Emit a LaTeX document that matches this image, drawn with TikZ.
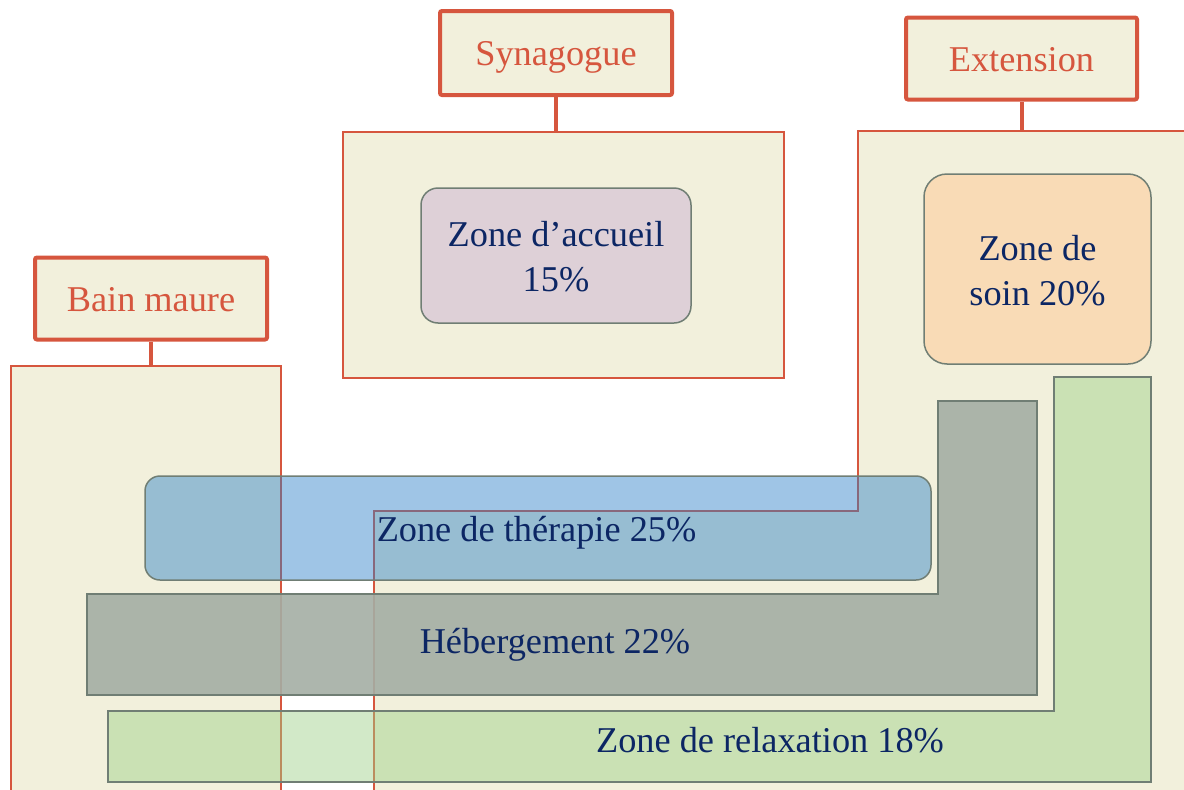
\documentclass[tikz,border=0pt]{standalone}
\usepackage{fontspec}
\setmainfont{Liberation Serif}
\definecolor{beige}{RGB}{242,240,220}
\definecolor{redline}{RGB}{214,86,62}
\definecolor{navy}{RGB}{12,38,100}
\definecolor{boxline}{RGB}{112,126,116}
\definecolor{blueZ}{RGB}{42,127,200}
\definecolor{grayZ}{RGB}{164,174,164}
\definecolor{greenZ}{RGB}{155,207,133}
\definecolor{pinkZ}{RGB}{222,208,215}
\definecolor{peachZ}{RGB}{249,219,182}
\begin{document}
\begin{tikzpicture}[x=1pt,y=-1pt,
  region/.style={fill=beige,draw=redline,line width=1.5pt,inner sep=0pt},
  labelbox/.style={draw=redline,fill=beige,line width=4pt,rounded corners=2pt,text=redline,
    font=\fontsize{36.3}{43}\selectfont,inner sep=0pt,text height=25pt,text depth=0pt},
  link/.style={draw=redline,line width=4pt},
  zone/.style={draw=boxline,line width=1.5pt,inner sep=0pt},
  ztext/.style={text=navy,font=\fontsize{36.3}{44}\selectfont,inner sep=0pt,anchor=base}
]
\useasboundingbox (0,0) rectangle (1184,790);
\begin{scope}
\clip (0,0) rectangle (1184,790);
% regions
\node[region,anchor=north west,minimum width=441pt,minimum height=246pt] (synreg) at (342,131) {};
\node[region,anchor=north west,minimum width=270pt,minimum height=450pt] (bainreg) at (10,365) {};
\draw[region] (858,131) -- (1200,131) -- (1200,820) -- (374,820) -- (374,511) -- (858,511) -- cycle;
\coordinate (extTop) at (1022,131);
% zones
\node[zone,fill=pinkZ,rounded corners=17pt,minimum width=270pt,minimum height=135pt] (accueil) at (556,255.5) {};
\node[ztext] (accueil1) at (556,246.7) {Zone d’accueil};
\node[ztext] (accueil2) at (556,291.7) {15\%};
\node[zone,fill=peachZ,rounded corners=23pt,minimum width=227pt,minimum height=190pt] (soin) at (1037.5,269) {};
\node[ztext] (soin1) at (1037.5,260) {Zone de};
\node[ztext] (soin2) at (1037.5,305) {soin 20\%};
\node[zone,fill=blueZ,fill opacity=0.45,rounded corners=15pt,minimum width=786pt,minimum height=104pt] (therapie) at (538,528) {};
\node[ztext] (therapietext) at (536.5,541.5) {Zone de thérapie 25\%};
\draw[zone,fill=grayZ,fill opacity=0.9] (87,594) -- (938,594) -- (938,401) -- (1037,401) -- (1037,695) -- (87,695) -- cycle;
\node[ztext] (heberg) at (555,653) {Hébergement 22\%};
\draw[zone,fill=greenZ,fill opacity=0.45] (108,711) -- (1054,711) -- (1054,377) -- (1151,377) -- (1151,782) -- (108,782) -- cycle;
\node[ztext] (relax) at (770,752) {Zone de relaxation 18\%};
\end{scope}
% label boxes
\node[labelbox,minimum width=232pt,minimum height=84pt] (syn) at (556,53) {Synagogue};
\node[labelbox,minimum width=231pt,minimum height=82pt] (ext) at (1021.5,58.5) {Extension};
\node[labelbox,minimum width=232pt,minimum height=82pt] (bain) at (151,298.5) {Bain maure};
\draw[link] (syn.south) -- (syn.south |- synreg.north);
\draw[link] (ext.south) -- (ext.south |- extTop);
\draw[link] (bain.south) -- (bain.south |- bainreg.north);
\end{tikzpicture}
\end{document}
